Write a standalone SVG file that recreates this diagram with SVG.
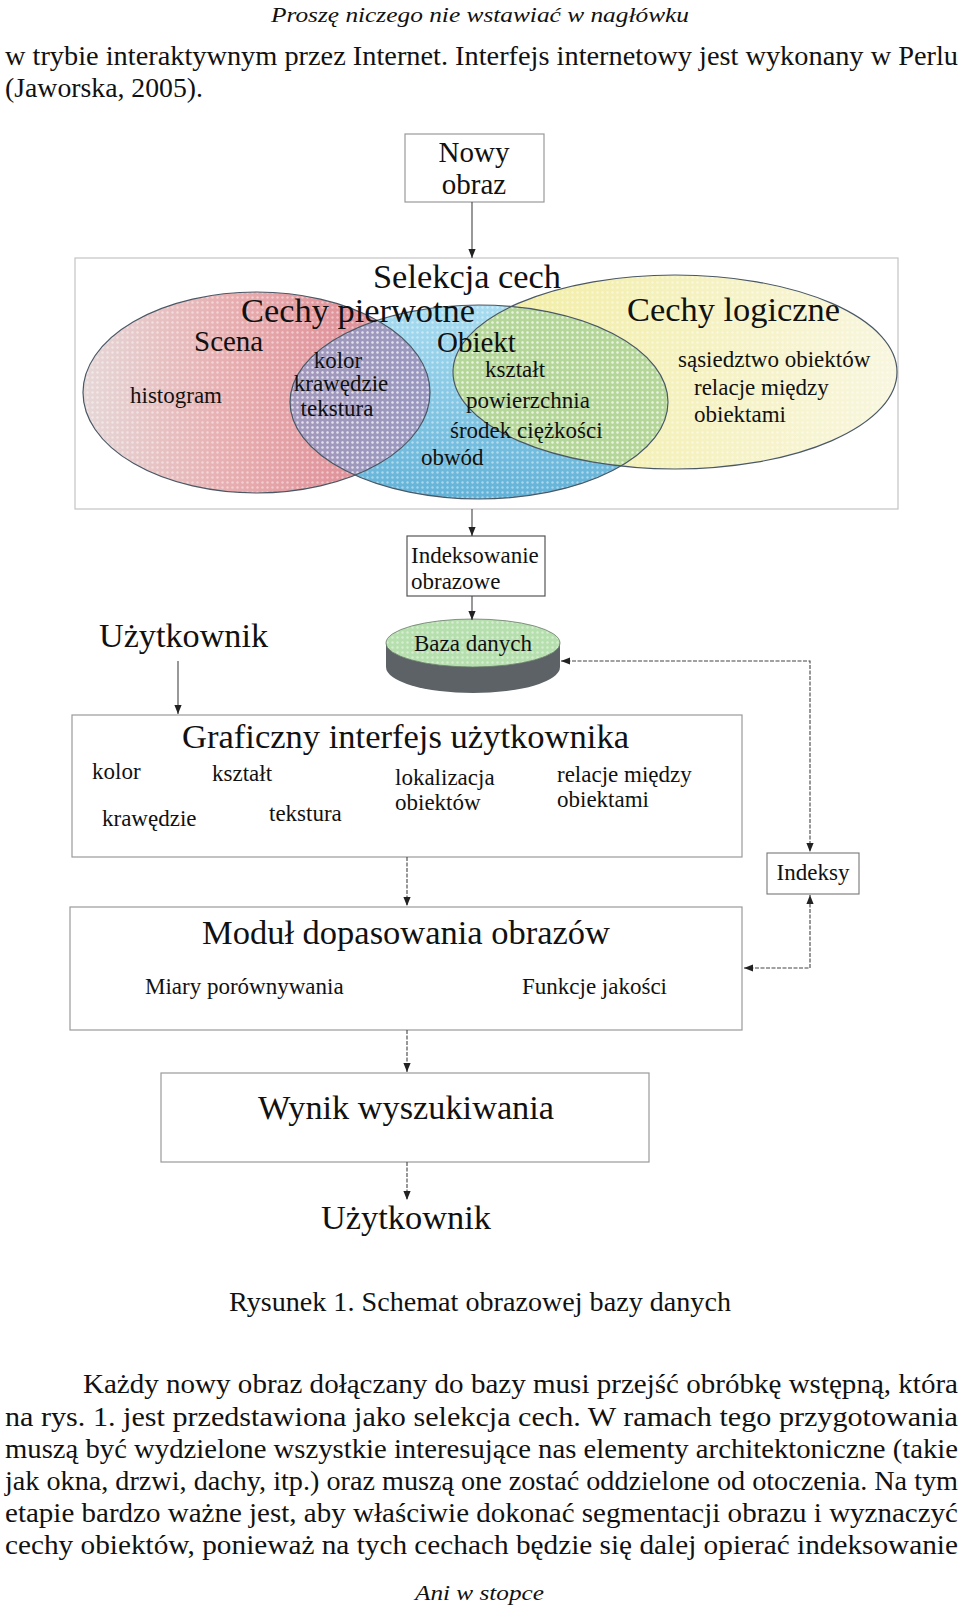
<svg xmlns="http://www.w3.org/2000/svg" width="960" height="1607" viewBox="0 0 960 1607">
<style>
text{font-family:"Liberation Serif","Times New Roman",serif;fill:#111}
.body{font-size:27px}
.it{font-style:italic;font-size:22px}
.big{font-size:34px}
.mid{font-size:29px}
.sm{font-size:23px}
.box{fill:#fff;stroke:#9a9a9a;stroke-width:1.2}
.conn{fill:none;stroke:#444;stroke-width:1.1}
.dash{stroke-dasharray:4 1.5}
.ell{stroke:#4a5866;stroke-width:1.2;fill:none}
</style>
<defs>
<marker id="arr" viewBox="0 0 10 10" refX="10" refY="5" markerWidth="9" markerHeight="9" orient="auto-start-reverse" markerUnits="userSpaceOnUse"><path d="M0,1 L10,5 L0,9 z" fill="#222"/></marker>
<pattern id="dots" width="5" height="5" patternUnits="userSpaceOnUse"><circle cx="2.5" cy="2.5" r="1.2" fill="#fff" fill-opacity="0.45"/></pattern>
<linearGradient id="gRed" x1="0" y1="0" x2="1" y2="0"><stop offset="0" stop-color="#e6d8d8"/><stop offset="0.4" stop-color="#e8b0b2"/><stop offset="0.75" stop-color="#e0939a"/><stop offset="1" stop-color="#da96a0"/></linearGradient>
<linearGradient id="gBlue" x1="0" y1="0" x2="0" y2="1"><stop offset="0" stop-color="#a8dcf0"/><stop offset="1" stop-color="#62b2d8"/></linearGradient>
<linearGradient id="gYel" x1="0" y1="0" x2="1" y2="0"><stop offset="0" stop-color="#f1ec9c"/><stop offset="1" stop-color="#f8f6de"/></linearGradient>
<linearGradient id="gPur" x1="0" y1="0" x2="1" y2="0"><stop offset="0" stop-color="#b09ab6"/><stop offset="1" stop-color="#9a98c0"/></linearGradient>
<clipPath id="cBlue"><ellipse cx="479" cy="402" rx="189" ry="97"/></clipPath>
<clipPath id="cYel"><ellipse cx="675" cy="372" rx="222" ry="97"/></clipPath>
</defs>

<!-- page text -->
<g id="page-text">
<text class="it" x="271" y="22" textLength="418" lengthAdjust="spacingAndGlyphs">Proszę niczego nie wstawiać w nagłówku</text>
<text class="body" x="5" y="65" textLength="953" lengthAdjust="spacingAndGlyphs">w trybie interaktywnym przez Internet. Interfejs internetowy jest wykonany w Perlu</text>
<text class="body" x="5" y="97" textLength="198" lengthAdjust="spacingAndGlyphs">(Jaworska, 2005).</text>
</g>

<g id="node-nowy-obraz">
<rect class="box" x="405" y="134" width="139" height="68" stroke="#bbb"/>
<text class="mid" x="474" y="162" text-anchor="middle">Nowy</text>
<text class="mid" x="474" y="194" text-anchor="middle">obraz</text>
</g>

<g id="node-selekcja-cech">
<rect x="75" y="258" width="823" height="251" fill="#fff" stroke="#c4c4c4" stroke-width="1.2"/>
<ellipse cx="256.5" cy="392.5" rx="173.5" ry="100.5" fill="url(#gRed)"/>
<ellipse cx="479" cy="402" rx="189" ry="97" fill="url(#gBlue)"/>
<ellipse cx="675" cy="372" rx="222" ry="97" fill="url(#gYel)"/>
<ellipse cx="256.5" cy="392.5" rx="173.5" ry="100.5" fill="url(#gPur)" clip-path="url(#cBlue)"/>
<ellipse cx="479" cy="402" rx="189" ry="97" fill="#b4d698" clip-path="url(#cYel)"/>
<ellipse cx="256.5" cy="392.5" rx="173.5" ry="100.5" fill="url(#dots)"/>
<ellipse cx="479" cy="402" rx="189" ry="97" fill="url(#dots)"/>
<ellipse cx="675" cy="372" rx="222" ry="97" fill="url(#dots)"/>
<ellipse class="ell" cx="256.5" cy="392.5" rx="173.5" ry="100.5"/>
<ellipse class="ell" cx="479" cy="402" rx="189" ry="97"/>
<ellipse class="ell" cx="675" cy="372" rx="222" ry="97"/>
<text class="big" x="373" y="288" textLength="188" lengthAdjust="spacingAndGlyphs">Selekcja cech</text>
<text class="big" x="241" y="322" textLength="234" lengthAdjust="spacingAndGlyphs">Cechy pierwotne</text>
<text class="mid" x="194" y="351">Scena</text>
<text class="sm" x="130" y="403">histogram</text>
<text class="sm" x="338" y="368" text-anchor="middle">kolor</text>
<text class="sm" x="341" y="391" text-anchor="middle">krawędzie</text>
<text class="sm" x="337" y="416" text-anchor="middle">tekstura</text>
<text class="mid" x="437" y="352">Obiekt</text>
<text class="sm" x="485" y="377">kształt</text>
<text class="sm" x="466" y="408">powierzchnia</text>
<text class="sm" x="450" y="438">środek ciężkości</text>
<text class="sm" x="421" y="465">obwód</text>
<text class="big" x="627" y="321" textLength="213" lengthAdjust="spacingAndGlyphs">Cechy logiczne</text>
<text class="sm" x="678" y="367">sąsiedztwo obiektów</text>
<text class="sm" x="694" y="395">relacje między</text>
<text class="sm" x="694" y="422">obiektami</text>
</g>

<g id="node-indeksowanie">
<rect x="407" y="536" width="138" height="60" fill="#fff" stroke="#555" stroke-width="1.2"/>
<text class="sm" x="411" y="563">Indeksowanie</text>
<text class="sm" x="411" y="589">obrazowe</text>
</g>

<g id="node-baza-danych">
<path d="M386,643 V667 A87,26 0 0 0 560,667 V643 Z" fill="#5c6266"/>
<ellipse cx="473" cy="643" rx="87" ry="24" fill="#b6dfae"/>
<ellipse cx="473" cy="643" rx="87" ry="24" fill="url(#dots)" stroke="#6a7a6a" stroke-width="0.8"/>
<text class="sm" x="473" y="651" text-anchor="middle">Baza danych</text>
</g>

<g id="node-uzytkownik-top">
<text class="big" x="99" y="647" textLength="169" lengthAdjust="spacingAndGlyphs">Użytkownik</text>
</g>

<g id="node-gui">
<rect class="box" x="72" y="715" width="670" height="142"/>
<text class="big" x="182" y="748" textLength="447" lengthAdjust="spacingAndGlyphs">Graficzny interfejs użytkownika</text>
<text class="sm" x="92" y="779">kolor</text>
<text class="sm" x="212" y="781">kształt</text>
<text class="sm" x="395" y="785">lokalizacja</text>
<text class="sm" x="395" y="810">obiektów</text>
<text class="sm" x="557" y="782">relacje między</text>
<text class="sm" x="557" y="807">obiektami</text>
<text class="sm" x="102" y="826">krawędzie</text>
<text class="sm" x="269" y="821">tekstura</text>
</g>

<g id="node-indeksy">
<rect x="767" y="853" width="92" height="41" fill="#fff" stroke="#777" stroke-width="1.1"/>
<text class="sm" x="813" y="880" text-anchor="middle">Indeksy</text>
</g>

<g id="node-modul">
<rect class="box" x="70" y="907" width="672" height="123"/>
<text class="big" x="202" y="944" textLength="408" lengthAdjust="spacingAndGlyphs">Moduł dopasowania obrazów</text>
<text class="sm" x="145" y="994">Miary porównywania</text>
<text class="sm" x="522" y="994">Funkcje jakości</text>
</g>

<g id="node-wynik">
<rect class="box" x="161" y="1073" width="488" height="89"/>
<text class="big" x="258" y="1119" textLength="296" lengthAdjust="spacingAndGlyphs">Wynik wyszukiwania</text>
</g>

<g id="node-uzytkownik-bottom">
<text class="big" x="321" y="1229" textLength="170" lengthAdjust="spacingAndGlyphs">Użytkownik</text>
</g>

<g id="connectors">
<path class="conn" d="M472,202 V258" marker-end="url(#arr)"/>
<path class="conn" d="M472,509 V536" marker-end="url(#arr)"/>
<path class="conn" d="M472,596 V620" marker-end="url(#arr)"/>
<path class="conn" d="M178,661 V714" marker-end="url(#arr)"/>
<path class="conn dash" d="M407,857 V906" marker-end="url(#arr)"/>
<path class="conn dash" d="M407,1030 V1072" marker-end="url(#arr)"/>
<path class="conn dash" d="M407,1162 V1200" marker-end="url(#arr)"/>
<path class="conn dash" d="M561,661 H810 V852" marker-start="url(#arr)" marker-end="url(#arr)"/>
<path class="conn dash" d="M744,968 H810 V895" marker-start="url(#arr)" marker-end="url(#arr)"/>
</g>

<g id="caption-and-paragraph">
<text class="body" x="229" y="1311" textLength="502" lengthAdjust="spacingAndGlyphs">Rysunek 1. Schemat obrazowej bazy danych</text>
<text class="body" x="83" y="1393" textLength="875" lengthAdjust="spacingAndGlyphs">Każdy nowy obraz dołączany do bazy musi przejść obróbkę wstępną, która</text>
<text class="body" x="5" y="1426" textLength="953" lengthAdjust="spacingAndGlyphs">na rys. 1. jest przedstawiona jako selekcja cech. W ramach tego przygotowania</text>
<text class="body" x="5" y="1458" textLength="953" lengthAdjust="spacingAndGlyphs">muszą być wydzielone wszystkie interesujące nas elementy architektoniczne (takie</text>
<text class="body" x="5" y="1490" textLength="953" lengthAdjust="spacingAndGlyphs">jak okna, drzwi, dachy, itp.) oraz muszą one zostać oddzielone od otoczenia. Na tym</text>
<text class="body" x="5" y="1522" textLength="953" lengthAdjust="spacingAndGlyphs">etapie bardzo ważne jest, aby właściwie dokonać segmentacji obrazu i wyznaczyć</text>
<text class="body" x="5" y="1554" textLength="953" lengthAdjust="spacingAndGlyphs">cechy obiektów, ponieważ na tych cechach będzie się dalej opierać indeksowanie</text>
<text class="it" x="415" y="1600" textLength="129" lengthAdjust="spacingAndGlyphs">Ani w stopce</text>
</g>
</svg>
